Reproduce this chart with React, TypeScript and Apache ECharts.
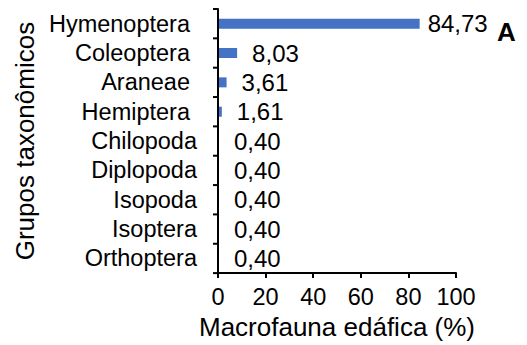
import React, { useEffect, useRef } from "react";
import * as echarts from "echarts";

const categories = [
  "Hymenoptera",
  "Coleoptera",
  "Araneae",
  "Hemiptera",
  "Chilopoda",
  "Diplopoda",
  "Isopoda",
  "Isoptera",
  "Orthoptera",
];
const values = [84.73, 8.03, 3.61, 1.61, 0.4, 0.4, 0.4, 0.4, 0.4];
const xTicks = [0, 20, 40, 60, 80, 100];
const xAxisTitle = "Macrofauna edáfica (%)";
const yAxisTitle = "Grupos taxonômicos";
const panelLetter = "A";
const paddedCategories = ["Hymenoptera", "Coleoptera", "Araneae", "Hemiptera"];

const FONT = "'Liberation Sans', Arial, sans-serif";

export default function App() {
  const ref = useRef<HTMLDivElement>(null);
  useEffect(() => {
    if (!ref.current) return;
    const chart = echarts.init(ref.current, undefined, { renderer: "svg" });
    const letter = {
      type: "text",
      id: "letter",
      left: 497,
      top: 19,
      style: {
        text: panelLetter,
        fontSize: 26,
        fontWeight: "bold",
        fontFamily: FONT,
        fill: "#000",
      },
    };
    chart.setOption({
      animation: false,
      backgroundColor: "#ffffff",
      textStyle: { fontFamily: FONT, color: "#000" },
      grid: { left: 218, right: 71, top: 9, bottom: 66, containLabel: false },
      xAxis: {
        type: "value",
        min: xTicks[0],
        max: xTicks[xTicks.length - 1],
        interval: 20,
        z: 3,
        splitLine: { show: false },
        axisLine: { show: true, lineStyle: { color: "#000", width: 2 } },
        axisTick: { show: true, length: 5, lineStyle: { color: "#000", width: 2 } },
        axisLabel: { color: "#000", fontSize: 23.5, fontFamily: FONT, margin: 12 },
        name: xAxisTitle,
        nameLocation: "middle",
        nameGap: 34,
        nameTextStyle: { color: "#000", fontSize: 26, fontFamily: FONT },
      },
      yAxis: [
        {
          type: "category",
          data: categories,
          inverse: true,
          position: "left",
          z: 3,
          axisLine: { show: true, onZero: false, lineStyle: { color: "#000", width: 2 } },
          axisTick: { show: false },
          axisLabel: {
            interval: 0,
            color: "#000",
            fontSize: 23.5,
            fontFamily: FONT,
            margin: 21,
            formatter: (v: string) =>
              paddedCategories.includes(v) ? `{p|${v}}` : `{n|${v}}`,
            rich: {
              p: { fontSize: 23.5, fontFamily: FONT, color: "#000", padding: [0, 7, 0, 0] },
              n: { fontSize: 23.5, fontFamily: FONT, color: "#000" },
            },
          },
          name: yAxisTitle,
          nameLocation: "middle",
          nameGap: 180,
          nameRotate: 90,
          nameTextStyle: { color: "#000", fontSize: 26, fontFamily: FONT },
        },
        {
          type: "value",
          position: "left",
          show: false,
          min: 0,
          max: categories.length,
          interval: 1,
        },
      ],
      series: [
        {
          type: "bar",
          yAxisIndex: 0,
          data: values.map((v, i) => ({
            value: v,
            label: { distance: i === 0 ? 8 : 15 },
          })),
          barWidth: 10,
          itemStyle: { color: "#4472C4" },
          label: {
            show: true,
            position: "right",
            color: "#000",
            fontSize: 24,
            fontFamily: FONT,
            formatter: (p: any) => Number(p.value).toFixed(2).replace(".", ","),
          },
        },
      ],
      graphic: [letter],
    });
    // category-boundary ticks on the y axis, positioned through the chart's own scales
    const x0 = chart.convertToPixel({ xAxisIndex: 0 }, 0) as number;
    const ticks: any[] = [];
    for (let i = 0; i <= categories.length; i++) {
      const y = chart.convertToPixel({ yAxisIndex: 1 }, i) as number;
      ticks.push({
        type: "line",
        z: 10,
        shape: { x1: x0 - 5, y1: y, x2: x0, y2: y },
        style: { stroke: "#000", lineWidth: 2 },
        silent: true,
      });
    }
    chart.setOption({ graphic: [letter, ...ticks] }, { replaceMerge: ["graphic"] });
    return () => chart.dispose();
  }, []);
  return (
    <div
      ref={ref}
      style={{ position: "fixed", left: 0, top: 0, width: 527, height: 345 }}
    />
  );
}
